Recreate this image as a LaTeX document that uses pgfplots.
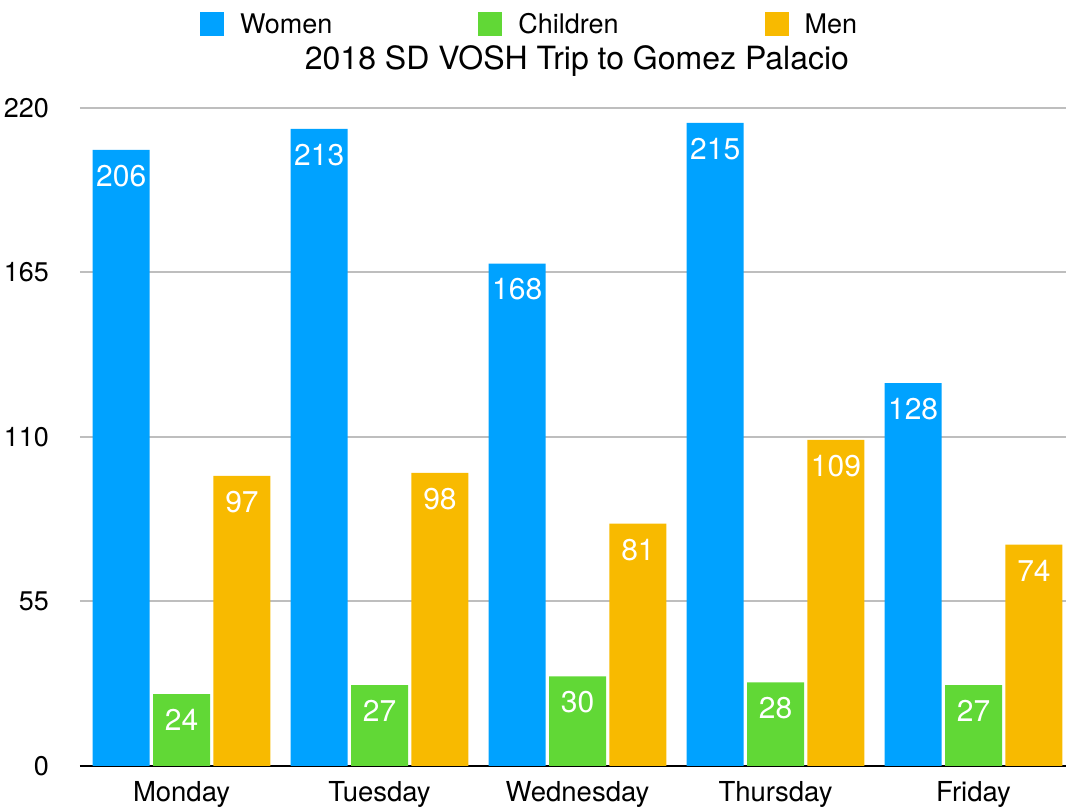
\documentclass[border=0pt]{standalone}
\usepackage{fontspec}
\setmainfont{TeX Gyre Heros}
\usepackage{pgfplots}
\pgfplotsset{compat=1.18}
\definecolor{cW}{HTML}{00A2FF}
\definecolor{cC}{HTML}{61D836}
\definecolor{cM}{HTML}{F8BA00}
\definecolor{gridc}{HTML}{BEBEBE}
\begin{document}
\begin{tikzpicture}
\useasboundingbox (0pt,0pt) rectangle (1066pt,811pt);
\begin{axis}[
  at={(80pt,45pt)}, anchor=south west,
  scale only axis, width=986pt, height=658pt,
  xmin=-0.513, xmax=4.467, ymin=0, ymax=220,
  ybar, bar width=0.288,
  axis line style={draw=none},
  major tick length=0pt,
  xtick={0,1,2,3,4},
  xticklabels={Monday,Tuesday,Wednesday,Thursday,Friday},
  ytick={0,55,110,165,220},
  ymajorgrids,
  major grid style={gridc, line width=2pt},
  extra y ticks={0},
  extra y tick labels={},
  extra y tick style={grid=major, major grid style={black, line width=2pt}},
  /pgf/number format/assume math mode=true,
  yticklabel style={anchor=east, inner sep=0pt, xshift=-31pt, font=\fontsize{27}{32}\selectfont},
  xticklabel style={anchor=base, inner sep=0pt, yshift=-36pt, font=\fontsize{27.5}{32}\selectfont},
  title={2018 SD VOSH Trip to Gomez Palacio},
  title style={at={(axis description cs:0.504,1)}, anchor=base, inner sep=0pt, yshift=32pt, font=\fontsize{32}{38}\selectfont},
  legend columns=3,
  legend style={at={(axis description cs:0.1217,1.1277)}, anchor=west, draw=none, fill=none, inner sep=0pt,
    font=\fontsize{27}{32}\selectfont, nodes={inner sep=0pt},
    /tikz/every odd column/.append style={column sep=16pt},
    /tikz/every even column/.append style={column sep=146pt}},
  legend cell align=left,
  legend image code/.code={\fill[#1] (0pt,-12pt) rectangle (24pt,12pt);},
  nodes near coords,
  nodes near coords style={anchor=north, inner sep=0pt, yshift=-15pt, white, font=\fontsize{30}{36}\selectfont},
]
\addplot[fill=cW, draw=none, bar shift=-0.305] coordinates {(0,206) (1,213) (2,168) (3,215) (4,128)};
\addplot[fill=cC, draw=none, bar shift=0] coordinates {(0,24) (1,27) (2,30) (3,28) (4,27)};
\addplot[fill=cM, draw=none, bar shift=0.305] coordinates {(0,97) (1,98) (2,81) (3,109) (4,74)};
\legend{Women,Children,Men}
\end{axis}
\end{tikzpicture}
\end{document}
